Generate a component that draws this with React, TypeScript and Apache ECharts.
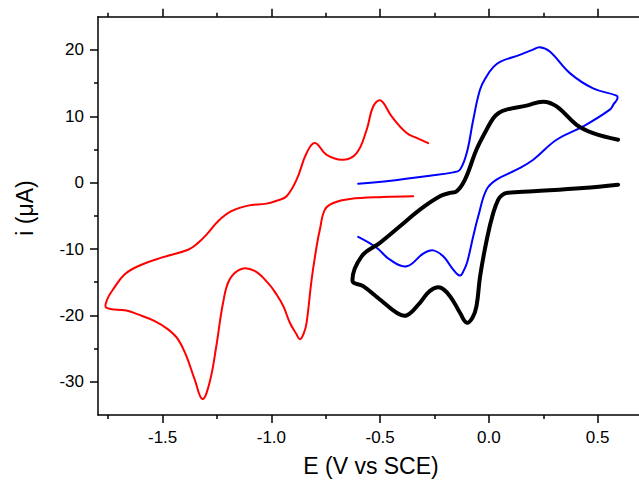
import React, { useEffect, useRef } from "react";
import * as echarts from "echarts";

const xMajor = [-1.5, -1.0, -0.5, 0.0, 0.5];
const xMinor = [-1.75, -1.25, -0.75, -0.25, 0.25];
const yMajor = [-30, -20, -10, 0, 10, 20];
const yMinor = [-25, -15, -5, 5, 15];

const redCurve: number[][] = [
  [-0.279, 5.96], [-0.33, 6.7], [-0.378, 7.47], [-0.447, 9.97], [-0.498, 12.38], [-0.532, 11.47],
  [-0.562, 7.97], [-0.608, 4.46], [-0.67, 3.46], [-0.746, 4.2], [-0.8, 5.96], [-0.838, 4.46],
  [-0.884, 0.45], [-0.93, -2.05], [-0.97, -2.66], [-1.022, -3.16], [-1.108, -3.46], [-1.184, -4.3],
  [-1.245, -5.8], [-1.291, -7.57], [-1.337, -9.07], [-1.383, -10.1], [-1.506, -11.3],
  [-1.6, -12.4], [-1.674, -13.8], [-1.728, -16.1], [-1.755, -17.6], [-1.759, -18.84],
  [-1.667, -19.25], [-1.613, -19.85], [-1.536, -20.85], [-1.475, -22.1], [-1.429, -23.6],
  [-1.391, -26.1], [-1.353, -29.6], [-1.317, -32.6], [-1.284, -30.1], [-1.253, -24.6],
  [-1.222, -18.1], [-1.192, -14.6], [-1.138, -13.0], [-1.077, -13.3], [-1.016, -15.1],
  [-0.977, -16.8], [-0.945, -18.6], [-0.915, -21.1], [-0.885, -22.8], [-0.869, -23.6],
  [-0.85, -22.6], [-0.838, -21.1], [-0.815, -14.6], [-0.792, -9.6], [-0.777, -7.07],
  [-0.754, -4.06], [-0.715, -3.06], [-0.639, -2.46], [-0.486, -2.16], [-0.348, -2.05],
];

const blueCurve: number[][] = [
  [-0.601, -0.15], [-0.45, 0.3], [-0.271, 1.05], [-0.164, 1.55], [-0.133, 1.95], [-0.102, 4.46],
  [-0.072, 9.47], [-0.041, 14.0], [-0.011, 16.0], [0.02, 17.4],
  [0.051, 18.2], [0.142, 19.25], [0.2, 20.0], [0.234, 20.4], [0.28, 19.75], [0.372, 16.5],
  [0.479, 14.2], [0.587, 13.1], [0.59, 12.6], [0.575, 11.9], [0.556, 11.0], [0.433, 8.47],
  [0.311, 6.47], [0.204, 3.46], [0.127, 1.95], [0.035, 0.45], [-0.011, -1.05],
  [-0.049, -5.07], [-0.072, -8.07], [-0.1, -12.0], [-0.118, -13.4], [-0.133, -14.0],
  [-0.164, -13.1], [-0.21, -11.1], [-0.256, -10.2], [-0.302, -10.7], [-0.378, -12.6],
  [-0.455, -11.6], [-0.516, -9.8], [-0.601, -8.17],
];

const blackCurve: number[][] = [
  [0.594, 6.47], [0.479, 7.47], [0.403, 8.72], [0.311, 11.5], [0.25, 12.2], [0.173, 11.6],
  [0.081, 11.0], [0.045, 10.5], [0.02, 9.7], [-0.011, 7.97], [-0.057, 5.0], [-0.11, 0.45],
  [-0.148, -1.31], [-0.179, -1.55], [-0.225, -2.06], [-0.317, -4.06], [-0.409, -6.57],
  [-0.501, -9.07], [-0.585, -11.1], [-0.627, -14.8], [-0.578, -15.6], [-0.501, -17.6],
  [-0.424, -19.6], [-0.378, -20.0], [-0.317, -18.1], [-0.271, -16.3], [-0.225, -15.8],
  [-0.179, -17.1], [-0.133, -19.6], [-0.102, -21.1], [-0.075, -20.3], [-0.057, -18.6],
  [-0.04, -14.0], [-0.008, -8.3], [0.02, -4.56], [0.043, -2.56], [0.06, -1.9], [0.081, -1.55],
  [0.204, -1.3], [0.433, -0.8], [0.594, -0.3],
];

const FONT = "'Liberation Sans', Arial, sans-serif";
const X_MIN = -1.797;
const X_MAX = 0.69;
const Y_MIN = -35;
const Y_MAX = 25;

export default function App() {
  const ref = useRef<HTMLDivElement>(null);
  useEffect(() => {
    if (!ref.current) return;
    const chart = echarts.init(ref.current, undefined, { renderer: "svg" });
    const gridPos = { left: 98, top: 16.7, right: 0, bottom: 70, containLabel: false };
    const axisLine = { show: true, onZero: false, lineStyle: { color: "#000", width: 1.5 } };
    const hiddenLine = { show: false, onZero: false };
    const mkX = (grid: number, position: string, ticks: number[], len: number, labels: boolean, line: boolean) => ({
      type: "value",
      gridIndex: grid,
      position,
      min: X_MIN,
      max: X_MAX,
      axisLine: line ? axisLine : hiddenLine,
      axisTick: { show: true, inside: false, length: len, customValues: ticks, lineStyle: { color: "#000", width: 1.5 } },
      axisLabel: labels
        ? { show: true, customValues: ticks, formatter: (v: number) => v.toFixed(1), color: "#000", fontSize: 17, fontFamily: FONT, margin: 14 }
        : { show: false },
      splitLine: { show: false },
    });
    const mkY = (grid: number, ticks: number[], len: number, labels: boolean, line: boolean) => ({
      type: "value",
      gridIndex: grid,
      position: "left",
      min: Y_MIN,
      max: Y_MAX,
      axisLine: line ? axisLine : hiddenLine,
      axisTick: { show: true, inside: false, length: len, customValues: ticks, lineStyle: { color: "#000", width: 1.5 } },
      axisLabel: labels
        ? { show: true, customValues: ticks, formatter: (v: number) => String(v), color: "#000", fontSize: 17, fontFamily: FONT, margin: 14 }
        : { show: false },
      splitLine: { show: false },
    });
    const mkSeries = (data: number[][], color: string, width: number) => ({
      type: "custom",
      coordinateSystem: "cartesian2d",
      xAxisIndex: 0,
      yAxisIndex: 0,
      data,
      encode: { x: 0, y: 1 },
      renderItem: (params: any, api: any) => {
        if (params.dataIndex !== 0) return null;
        const pts = data.map((p) => api.coord(p));
        return {
          type: "polyline",
          shape: { points: pts, smooth: 0.4 },
          style: { stroke: color, lineWidth: width, fill: null, lineCap: "round", lineJoin: "round" },
          silent: true,
        };
      },
    });
    chart.setOption({
      animation: false,
      backgroundColor: "#fff",
      grid: [gridPos, { ...gridPos }],
      xAxis: [
        mkX(0, "bottom", xMajor, 8, true, true),
        mkX(0, "top", xMajor, 8, false, true),
        mkX(1, "bottom", xMinor, 4, false, false),
        mkX(1, "top", xMinor, 4, false, false),
      ],
      yAxis: [
        mkY(0, yMajor, 8, true, true),
        mkY(1, yMinor, 4, false, false),
      ],
      series: [
        mkSeries(redCurve, "#ff0000", 2),
        mkSeries(blueCurve, "#0000ff", 2),
        mkSeries(blackCurve, "#000000", 4),
      ],
      graphic: [
        {
          type: "text",
          x: 371,
          y: 466,
          style: {
            text: "E (V vs SCE)",
            font: `23px ${FONT}`,
            fill: "#000",
            align: "center",
            verticalAlign: "middle",
            textAlign: "center",
            textVerticalAlign: "middle",
          },
        },
        {
          type: "text",
          x: 25,
          y: 208,
          rotation: Math.PI / 2,
          style: {
            text: "i (μA)",
            font: `23px ${FONT}`,
            fill: "#000",
            align: "center",
            verticalAlign: "middle",
            textAlign: "center",
            textVerticalAlign: "middle",
          },
        },
      ],
    });
    return () => chart.dispose();
  }, []);
  return (
    <div
      ref={ref}
      style={{ position: "absolute", left: 0, top: 0, width: 639, height: 485, background: "#fff" }}
    />
  );
}
